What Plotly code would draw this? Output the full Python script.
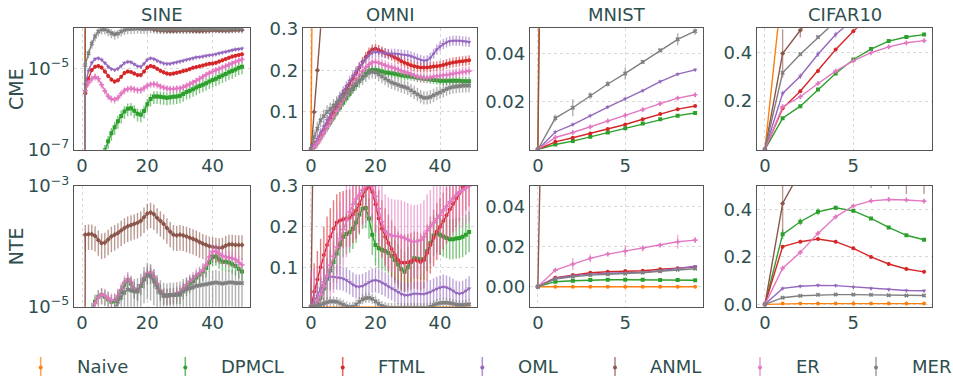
import plotly.graph_objects as go
from plotly.subplots import make_subplots

# ---------------- data ----------------
METHODS = ["Naive", "DPMCL", "FTML", "OML", "ANML", "ER", "MER"]
COLORS = ["#ff7f0e", "#2ca02c", "#d62728", "#9467bd", "#8c564b", "#e377c2", "#7f7f7f"]
SYMBOLS = ["circle", "square", "circle", "triangle-down", "diamond", "cross", "x"]
DATASETS = ["SINE", "OMNI", "MNIST", "CIFAR10"]
METRICS = ["CME", "NTE"]
STEPS_LONG = list(range(50))
STEPS_SHORT = list(range(10))

SINE_CME = {
    "Naive": [1e-30, 1.6e-4, 1.7e-4, 1.8e-4, 1.7e-4, 1.6e-4, 1.5e-4, 1.45e-4, 1.4e-4, 1.35e-4,
              1.3e-4, 1.3e-4, 1.25e-4, 1.2e-4, 1.2e-4, 1.15e-4, 1.12e-4, 1.1e-4, 1.08e-4, 1.06e-4,
              1.04e-4, 1.03e-4, 1.02e-4, 1.01e-4, 1.0e-4, 9.9e-5, 9.8e-5, 9.8e-5, 9.9e-5, 1.01e-4,
              1.03e-4, 1.05e-4, 1.06e-4, 1.07e-4, 1.08e-4, 1.09e-4, 1.1e-4, 1.1e-4, 1.11e-4, 1.12e-4,
              1.12e-4, 1.13e-4, 1.14e-4, 1.14e-4, 1.15e-4, 1.15e-4, 1.16e-4, 1.16e-4, 1.17e-4, 1.17e-4],
    "DPMCL": [1e-30, 3.2e-9, 6.3e-9, 1.0e-8, 1.6e-8, 2.5e-8, 5.0e-8, 9.5e-8, 1.58e-7, 2.51e-7,
              3.55e-7, 5.01e-7, 6.76e-7, 8.71e-7, 1.02e-6, 1.05e-6, 9.12e-7, 7.59e-7, 7.24e-7, 8.91e-7,
              1.32e-6, 1.78e-6, 2.04e-6, 2.04e-6, 2.0e-6, 1.95e-6, 1.91e-6, 1.95e-6, 2.0e-6, 2.04e-6,
              2.14e-6, 2.34e-6, 2.63e-6, 2.82e-6, 3.09e-6, 3.39e-6, 3.72e-6, 3.98e-6, 4.37e-6, 4.79e-6,
              5.25e-6, 5.62e-6, 6.17e-6, 6.76e-6, 7.41e-6, 8.13e-6, 8.71e-6, 9.55e-6, 1.05e-5, 1.12e-5],
    "FTML": [1e-30, 2.45e-6, 5.62e-6, 9.33e-6, 1.12e-5, 1.17e-5, 1.07e-5, 8.51e-6, 6.61e-6, 5.37e-6,
             4.79e-6, 5.13e-6, 6.31e-6, 7.76e-6, 8.51e-6, 8.32e-6, 7.59e-6, 6.92e-6, 6.92e-6, 8.51e-6,
             1.07e-5, 1.17e-5, 1.12e-5, 1.0e-5, 8.91e-6, 8.13e-6, 7.59e-6, 7.41e-6, 7.59e-6, 7.94e-6,
             8.32e-6, 8.71e-6, 9.12e-6, 9.77e-6, 1.05e-5, 1.10e-5, 1.15e-5, 1.20e-5, 1.26e-5, 1.32e-5,
             1.35e-5, 1.41e-5, 1.51e-5, 1.62e-5, 1.74e-5, 1.86e-5, 2.0e-5, 2.09e-5, 2.19e-5, 2.29e-5],
    "OML": [1e-30, 3.98e-6, 8.91e-6, 1.41e-5, 1.74e-5, 1.82e-5, 1.66e-5, 1.38e-5, 1.12e-5, 9.77e-6,
            9.33e-6, 1.0e-5, 1.17e-5, 1.38e-5, 1.48e-5, 1.45e-5, 1.29e-5, 1.15e-5, 1.12e-5, 1.32e-5,
            1.66e-5, 1.82e-5, 1.74e-5, 1.58e-5, 1.45e-5, 1.35e-5, 1.32e-5, 1.32e-5, 1.38e-5, 1.45e-5,
            1.51e-5, 1.58e-5, 1.66e-5, 1.74e-5, 1.82e-5, 1.91e-5, 1.95e-5, 2.0e-5, 2.09e-5, 2.14e-5,
            2.19e-5, 2.29e-5, 2.40e-5, 2.51e-5, 2.63e-5, 2.75e-5, 2.88e-5, 3.02e-5, 3.09e-5, 3.16e-5],
    "ANML": [1e-30, 3.0e-4, 3.2e-4, 3.1e-4, 2.9e-4, 2.7e-4, 2.5e-4, 2.3e-4, 2.2e-4, 2.1e-4,
             2.0e-4, 1.9e-4, 1.8e-4, 1.7e-4, 1.6e-4, 1.5e-4, 1.4e-4, 1.3e-4, 1.2e-4, 1.12e-4,
             1.05e-4, 9.8e-5, 9.3e-5, 9.0e-5, 8.8e-5, 8.7e-5, 8.6e-5, 8.5e-5, 8.5e-5, 8.6e-5,
             8.7e-5, 8.8e-5, 8.8e-5, 8.7e-5, 8.6e-5, 8.5e-5, 8.5e-5, 8.6e-5, 8.7e-5, 8.8e-5,
             8.9e-5, 8.9e-5, 8.8e-5, 8.7e-5, 8.7e-5, 8.8e-5, 8.9e-5, 9.0e-5, 9.0e-5, 9.1e-5],
    "ER": [1e-30, 2.82e-6, 4.47e-6, 5.62e-6, 6.31e-6, 5.62e-6, 3.98e-6, 2.82e-6, 2.09e-6, 1.78e-6,
           1.70e-6, 1.91e-6, 2.40e-6, 2.88e-6, 3.16e-6, 3.24e-6, 3.09e-6, 2.95e-6, 2.95e-6, 3.31e-6,
           3.80e-6, 4.07e-6, 4.17e-6, 3.98e-6, 3.63e-6, 3.39e-6, 3.24e-6, 3.16e-6, 3.16e-6, 3.24e-6,
           3.24e-6, 3.47e-6, 3.80e-6, 4.17e-6, 4.57e-6, 5.01e-6, 5.62e-6, 6.31e-6, 7.08e-6, 7.76e-6,
           8.51e-6, 9.12e-6, 9.77e-6, 1.07e-5, 1.15e-5, 1.26e-5, 1.35e-5, 1.48e-5, 1.58e-5, 1.70e-5],
    "MER": [1e-30, 1.23e-5, 2.40e-5, 4.17e-5, 6.31e-5, 8.32e-5, 9.33e-5, 9.33e-5, 8.51e-5, 7.59e-5,
            7.08e-5, 7.41e-5, 8.32e-5, 9.12e-5, 9.55e-5, 9.6e-5, 9.8e-5, 9.9e-5, 9.7e-5, 9.6e-5,
            9.8e-5, 1.0e-4, 9.9e-5, 9.7e-5, 9.6e-5, 9.5e-5, 9.6e-5, 9.8e-5, 9.9e-5, 9.8e-5,
            9.7e-5, 9.6e-5, 9.7e-5, 9.8e-5, 9.9e-5, 1.0e-4, 9.9e-5, 9.8e-5, 9.7e-5, 9.8e-5,
            9.9e-5, 1.0e-4, 1.0e-4, 9.9e-5, 9.8e-5, 9.9e-5, 1.0e-4, 1.01e-4, 1.0e-4, 9.9e-5],
}
SINE_CME_ERR_PCT = {"Naive": 10, "DPMCL": 35, "FTML": 12, "OML": 12, "ANML": 10, "ER": 20, "MER": 25}

SINE_NTE = {
    "Naive": [0.0] * 50,
    "DPMCL": [1e-30, 2.51e-6, 5.01e-6, 8.91e-6, 1.20e-5, 1.45e-5, 1.55e-5, 1.45e-5, 1.32e-5, 1.20e-5,
              1.23e-5, 1.41e-5, 1.74e-5, 2.29e-5, 2.69e-5, 2.40e-5, 1.91e-5, 1.78e-5, 2.19e-5, 2.82e-5,
              3.31e-5, 3.39e-5, 2.88e-5, 2.29e-5, 1.78e-5, 1.51e-5, 1.51e-5, 1.55e-5, 1.55e-5, 1.58e-5,
              1.58e-5, 1.86e-5, 2.14e-5, 2.40e-5, 2.63e-5, 3.02e-5, 3.39e-5, 3.80e-5, 4.37e-5, 5.37e-5,
              6.61e-5, 6.76e-5, 6.03e-5, 5.50e-5, 5.50e-5, 5.37e-5, 5.01e-5, 4.68e-5, 4.17e-5, 3.80e-5],
    "ANML": [1e-30, 1.55e-4, 1.58e-4, 1.58e-4, 1.48e-4, 1.26e-4, 1.12e-4, 1.15e-4, 1.29e-4, 1.45e-4,
             1.55e-4, 1.66e-4, 1.82e-4, 2.0e-4, 2.14e-4, 2.24e-4, 2.34e-4, 2.45e-4, 2.63e-4, 3.02e-4,
             3.47e-4, 3.63e-4, 3.39e-4, 2.95e-4, 2.63e-4, 2.34e-4, 2.0e-4, 1.74e-4, 1.55e-4, 1.51e-4,
             1.55e-4, 1.51e-4, 1.45e-4, 1.38e-4, 1.32e-4, 1.26e-4, 1.17e-4, 1.10e-4, 1.05e-4, 1.0e-4,
             9.77e-5, 9.55e-5, 9.33e-5, 9.55e-5, 1.02e-4, 1.07e-4, 1.07e-4, 1.05e-4, 1.05e-4, 1.05e-4],
    "ER": [1e-30, 2.0e-6, 4.47e-6, 8.32e-6, 1.12e-5, 1.41e-5, 1.58e-5, 1.51e-5, 1.38e-5, 1.26e-5,
           1.29e-5, 1.51e-5, 1.91e-5, 2.51e-5, 2.88e-5, 2.51e-5, 2.0e-5, 1.82e-5, 2.29e-5, 3.02e-5,
           3.55e-5, 3.72e-5, 3.16e-5, 2.40e-5, 1.82e-5, 1.58e-5, 1.51e-5, 1.51e-5, 1.58e-5, 1.66e-5,
           1.74e-5, 2.0e-5, 2.29e-5, 2.63e-5, 2.88e-5, 3.24e-5, 3.55e-5, 4.07e-5, 4.90e-5, 6.61e-5,
           8.13e-5, 8.32e-5, 7.59e-5, 6.92e-5, 6.61e-5, 6.46e-5, 6.31e-5, 6.03e-5, 5.37e-5, 4.90e-5],
    "MER": [1e-30, 3.16e-7, 6.31e-7, 1.0e-6, 1.58e-6, 2.51e-6, 3.16e-6, 3.98e-6, 5.01e-6, 6.31e-6,
            8.91e-6, 1.20e-5, 1.41e-5, 1.70e-5, 1.91e-5, 1.86e-5, 1.78e-5, 1.86e-5, 2.19e-5, 2.82e-5,
            3.31e-5, 3.16e-5, 2.63e-5, 2.09e-5, 1.70e-5, 1.55e-5, 1.51e-5, 1.55e-5, 1.55e-5, 1.58e-5,
            1.62e-5, 1.78e-5, 1.91e-5, 2.0e-5, 2.09e-5, 2.19e-5, 2.24e-5, 2.29e-5, 2.34e-5, 2.40e-5,
            2.45e-5, 2.51e-5, 2.45e-5, 2.40e-5, 2.45e-5, 2.51e-5, 2.51e-5, 2.45e-5, 2.45e-5, 2.45e-5],
}
SINE_NTE_ERR_PCT = {"Naive": 0, "DPMCL": 30, "ANML": 45, "ER": 30, "MER": 60}

OMNI_CME = {
    "Naive": [0.0, 1.0, 1.1, 1.15, 1.18, 1.2, 1.2, 1.21, 1.21, 1.22,
              1.22, 1.22, 1.23, 1.23, 1.23, 1.23, 1.24, 1.24, 1.24, 1.24,
              1.24, 1.24, 1.24, 1.24, 1.24, 1.24, 1.24, 1.24, 1.24, 1.24,
              1.24, 1.24, 1.24, 1.24, 1.24, 1.24, 1.24, 1.24, 1.24, 1.24,
              1.24, 1.24, 1.24, 1.24, 1.24, 1.24, 1.24, 1.24, 1.24, 1.24],
    "DPMCL": [0.01, 0.016, 0.027, 0.039, 0.051, 0.063, 0.075, 0.087, 0.099, 0.111,
              0.122, 0.133, 0.144, 0.155, 0.165, 0.175, 0.184, 0.192, 0.198, 0.201,
              0.201, 0.199, 0.197, 0.195, 0.194, 0.193, 0.192, 0.190, 0.188, 0.187,
              0.186, 0.185, 0.184, 0.182, 0.181, 0.180, 0.179, 0.178, 0.177, 0.176,
              0.175, 0.175, 0.175, 0.175, 0.175, 0.175, 0.175, 0.174, 0.174, 0.174],
    "FTML": [0.01, 0.018, 0.03, 0.044, 0.058, 0.072, 0.086, 0.10, 0.114, 0.128,
             0.142, 0.155, 0.168, 0.181, 0.194, 0.207, 0.22, 0.232, 0.243, 0.25,
             0.252, 0.249, 0.245, 0.241, 0.238, 0.235, 0.231, 0.227, 0.222, 0.218,
             0.215, 0.212, 0.210, 0.208, 0.207, 0.207, 0.207, 0.208, 0.209, 0.210,
             0.211, 0.213, 0.215, 0.217, 0.219, 0.220, 0.221, 0.222, 0.223, 0.224],
    "OML": [0.012, 0.02, 0.035, 0.05, 0.065, 0.08, 0.095, 0.11, 0.123, 0.137,
            0.15, 0.162, 0.175, 0.187, 0.198, 0.208, 0.218, 0.228, 0.236, 0.242,
            0.244, 0.243, 0.242, 0.241, 0.240, 0.240, 0.240, 0.239, 0.238, 0.237,
            0.236, 0.234, 0.231, 0.228, 0.225, 0.223, 0.224, 0.230, 0.240, 0.250,
            0.257, 0.263, 0.267, 0.270, 0.271, 0.271, 0.271, 0.270, 0.269, 0.268],
    "ANML": [0.0, 0.1, 0.2, 0.31, 0.42, 0.52, 0.6, 0.66, 0.7, 0.73,
             0.75, 0.77, 0.78, 0.79, 0.8, 0.8, 0.81, 0.81, 0.81, 0.82,
             0.82, 0.82, 0.82, 0.82, 0.82, 0.82, 0.82, 0.82, 0.82, 0.82,
             0.82, 0.82, 0.82, 0.82, 0.82, 0.82, 0.82, 0.82, 0.82, 0.82,
             0.82, 0.82, 0.82, 0.82, 0.82, 0.82, 0.82, 0.82, 0.82, 0.82],
    "ER": [0.01, 0.015, 0.025, 0.037, 0.05, 0.063, 0.076, 0.089, 0.102, 0.115,
           0.128, 0.14, 0.152, 0.164, 0.176, 0.188, 0.198, 0.207, 0.214, 0.219,
           0.22, 0.218, 0.215, 0.212, 0.209, 0.207, 0.205, 0.202, 0.199, 0.196,
           0.194, 0.191, 0.188, 0.185, 0.183, 0.182, 0.182, 0.183, 0.185, 0.186,
           0.187, 0.188, 0.189, 0.190, 0.192, 0.193, 0.194, 0.196, 0.197, 0.198],
    "MER": [0.01, 0.04, 0.06, 0.08, 0.09, 0.10, 0.107, 0.115, 0.122, 0.13,
            0.138, 0.146, 0.153, 0.160, 0.167, 0.174, 0.181, 0.188, 0.194, 0.197,
            0.195, 0.19, 0.185, 0.18, 0.175, 0.171, 0.168, 0.165, 0.162, 0.16,
            0.157, 0.152, 0.147, 0.142, 0.137, 0.134, 0.134, 0.136, 0.14, 0.144,
            0.147, 0.151, 0.155, 0.158, 0.16, 0.161, 0.162, 0.163, 0.163, 0.163],
}
OMNI_CME_ERR = {"Naive": 0, "DPMCL": 0.01, "FTML": 0.012, "OML": 0.012, "ANML": 0, "ER": 0.012, "MER": 0.016}

OMNI_NTE = {
    "Naive": [0.0] * 50,
    "DPMCL": [0.003, 0.005, 0.012, 0.025, 0.048, 0.072, 0.092, 0.113, 0.134, 0.156,
              0.175, 0.182, 0.186, 0.195, 0.21, 0.23, 0.244, 0.246, 0.22, 0.18,
              0.155, 0.147, 0.143, 0.140, 0.135, 0.128, 0.118, 0.107, 0.095, 0.089,
              0.10, 0.113, 0.122, 0.121, 0.119, 0.12, 0.14, 0.16, 0.178, 0.184,
              0.18, 0.176, 0.172, 0.169, 0.169, 0.171, 0.172, 0.175, 0.18, 0.187],
    "FTML": [0.003, 0.04, 0.07, 0.10, 0.13, 0.155, 0.175, 0.195, 0.21, 0.215,
             0.218, 0.22, 0.222, 0.23, 0.24, 0.255, 0.275, 0.292, 0.298, 0.285,
             0.255, 0.22, 0.195, 0.175, 0.16, 0.145, 0.13, 0.118, 0.112, 0.111,
             0.112, 0.115, 0.118, 0.116, 0.113, 0.118, 0.135, 0.155, 0.172, 0.188,
             0.20, 0.214, 0.228, 0.242, 0.256, 0.269, 0.283, 0.297, 0.31, 0.32],
    "OML": [0.003, 0.015, 0.03, 0.048, 0.063, 0.074, 0.077, 0.076, 0.075, 0.074,
            0.072, 0.068, 0.063, 0.057, 0.053, 0.052, 0.054, 0.058, 0.063, 0.067,
            0.068, 0.066, 0.062, 0.058, 0.053, 0.048, 0.044, 0.039, 0.034, 0.031,
            0.031, 0.033, 0.035, 0.035, 0.034, 0.034, 0.036, 0.039, 0.043, 0.047,
            0.050, 0.052, 0.050, 0.047, 0.042, 0.037, 0.035, 0.037, 0.042, 0.048],
    "ANML": [0.0, 0.6, 0.7, 0.75, 0.78, 0.8, 0.8, 0.8, 0.8, 0.8,
             0.8, 0.8, 0.8, 0.8, 0.8, 0.8, 0.8, 0.8, 0.8, 0.8,
             0.8, 0.8, 0.8, 0.8, 0.8, 0.8, 0.8, 0.8, 0.8, 0.8,
             0.8, 0.8, 0.8, 0.8, 0.8, 0.8, 0.8, 0.8, 0.8, 0.8,
             0.8, 0.8, 0.8, 0.8, 0.8, 0.8, 0.8, 0.8, 0.8, 0.8],
    "ER": [0.003, 0.006, 0.015, 0.031, 0.055, 0.08, 0.105, 0.127, 0.15, 0.171,
           0.193, 0.215, 0.236, 0.255, 0.268, 0.278, 0.29, 0.30, 0.305, 0.30,
           0.275, 0.244, 0.212, 0.19, 0.182, 0.178, 0.177, 0.176, 0.175, 0.172,
           0.168, 0.164, 0.163, 0.164, 0.167, 0.175, 0.19, 0.20, 0.21, 0.22,
           0.228, 0.24, 0.25, 0.261, 0.27, 0.278, 0.285, 0.29, 0.295, 0.30],
    "MER": [0.003, 0.003, 0.005, 0.007, 0.011, 0.014, 0.016, 0.016, 0.015, 0.012,
            0.008, 0.004, 0.002, 0.003, 0.008, 0.015, 0.021, 0.024, 0.025, 0.022,
            0.016, 0.01, 0.005, 0.002, 0.0, 0.0, 0.0, 0.0, 0.0, 0.0,
            0.0, 0.0, 0.0, 0.0, 0.0, 0.0, 0.0, 0.003, 0.007, 0.01,
            0.012, 0.013, 0.013, 0.012, 0.01, 0.008, 0.007, 0.007, 0.008, 0.009],
}
OMNI_NTE_ERR = {"Naive": 0, "DPMCL": 0.05, "FTML": 0.07, "OML": 0.03, "ANML": 0, "ER": 0.09, "MER": 0.012}

MNIST_CME = {
    "Naive": [0.0, 0.9, 0.95, 0.97, 0.98, 0.98, 0.99, 0.99, 0.99, 0.99],
    "DPMCL": [0.0, 0.0021, 0.0035, 0.0053, 0.0071, 0.0089, 0.0108, 0.0126, 0.0141, 0.0152],
    "FTML": [0.0, 0.0032, 0.0049, 0.0067, 0.0085, 0.0104, 0.0126, 0.0148, 0.0168, 0.0181],
    "OML": [0.0, 0.0073, 0.0104, 0.0141, 0.0177, 0.0211, 0.0245, 0.0283, 0.0314, 0.0332],
    "ANML": [0.0, 0.6, 0.7, 0.75, 0.78, 0.8, 0.81, 0.82, 0.83, 0.83],
    "ER": [0.0, 0.005, 0.0071, 0.0094, 0.0119, 0.0142, 0.0166, 0.0191, 0.0214, 0.0228],
    "MER": [0.0, 0.0131, 0.0174, 0.0225, 0.0273, 0.0317, 0.0365, 0.0413, 0.0459, 0.0493],
}
MNIST_CME_ERR = {"Naive": 0, "DPMCL": 0.0004, "FTML": 0.0005, "OML": 0.0008, "ANML": 0, "ER": 0.0008,
                 "MER": [0.0, 0.0015, 0.0035, 0.0015, 0.0012, 0.0025, 0.0008, 0.0008, 0.0025, 0.0015]}

MNIST_NTE = {
    "Naive": [0.0, 0.0, 0.0, 0.0, 0.0, 0.0, 0.0, 0.0, 0.0, 0.0],
    "DPMCL": [0.0, 0.0025, 0.003, 0.0033, 0.0035, 0.0035, 0.0035, 0.0034, 0.0033, 0.0032],
    "FTML": [0.0, 0.0045, 0.0058, 0.007, 0.0075, 0.0078, 0.008, 0.0087, 0.0092, 0.0098],
    "OML": [0.0, 0.0042, 0.0055, 0.0063, 0.0067, 0.007, 0.0073, 0.008, 0.009, 0.0102],
    "ANML": [0.0, 0.45, 0.5, 0.52, 0.53, 0.54, 0.54, 0.54, 0.54, 0.54],
    "ER": [0.0, 0.0083, 0.0113, 0.0142, 0.0163, 0.0178, 0.0192, 0.0208, 0.0225, 0.0233],
    "MER": [0.0, 0.0038, 0.005, 0.0058, 0.0062, 0.0065, 0.007, 0.0077, 0.0085, 0.009],
}
MNIST_NTE_ERR = {"Naive": 0, "DPMCL": 0.0004, "FTML": 0.0006, "OML": 0.0006, "ANML": 0,
                 "ER": [0.0, 0.0008, 0.003, 0.002, 0.001, 0.003, 0.0015, 0.001, 0.0035, 0.0015],
                 "MER": 0.0006}

CIFAR_CME = {
    "Naive": [0.0, 0.69, 0.85, 0.9, 0.92, 0.93, 0.94, 0.94, 0.95, 0.95],
    "DPMCL": [0.0, 0.129, 0.179, 0.248, 0.314, 0.372, 0.415, 0.448, 0.465, 0.475],
    "FTML": [0.0, 0.17, 0.241, 0.325, 0.413, 0.489, 0.56, 0.62, 0.67, 0.7],
    "OML": [0.0, 0.232, 0.303, 0.394, 0.475, 0.54, 0.6, 0.65, 0.69, 0.72],
    "ANML": [0.0, 0.397, 0.493, 0.58, 0.65, 0.7, 0.74, 0.77, 0.79, 0.8],
    "ER": [0.0, 0.177, 0.218, 0.273, 0.324, 0.366, 0.40, 0.424, 0.441, 0.45],
    "MER": [0.0, 0.317, 0.394, 0.465, 0.53, 0.58, 0.63, 0.67, 0.7, 0.72],
}
CIFAR_CME_ERR = {"Naive": 0, "DPMCL": 0.004, "FTML": 0.006, "OML": 0.012,
                 "ANML": [0.0, 0.1, 0.03, 0.03, 0.03, 0.03, 0.03, 0.03, 0.03, 0.03],
                 "ER": 0.005, "MER": 0.005}

CIFAR_NTE = {
    "Naive": [0.0, 0.003, 0.003, 0.003, 0.003, 0.003, 0.003, 0.003, 0.003, 0.003],
    "DPMCL": [0.0, 0.295, 0.348, 0.39, 0.407, 0.394, 0.362, 0.324, 0.291, 0.272],
    "FTML": [0.0, 0.243, 0.264, 0.275, 0.264, 0.236, 0.20, 0.17, 0.149, 0.137],
    "OML": [0.0, 0.067, 0.076, 0.08, 0.079, 0.073, 0.067, 0.062, 0.058, 0.057],
    "ANML": [0.0, 0.425, 0.56, 0.6, 0.62, 0.62, 0.6, 0.6, 0.6, 0.6],
    "ER": [0.0, 0.152, 0.219, 0.299, 0.369, 0.415, 0.436, 0.442, 0.44, 0.435],
    "MER": [0.0, 0.028, 0.036, 0.040, 0.041, 0.041, 0.040, 0.038, 0.037, 0.037],
}
CIFAR_NTE_ERR = {"Naive": 0.002,
                 "DPMCL": [0.0, 0.02, 0.015, 0.015, 0.008, 0.008, 0.005, 0.004, 0.005, 0.004],
                 "FTML": 0.008, "OML": 0.008,
                 "ANML": [0.0, 0.12, 0.05, 0.05, 0.05, 0.05, 0.11, 0.115, 0.135, 0.135],
                 "ER": 0.006, "MER": 0.002}

# ---------------- styling ----------------
FONT = "DejaVu Sans"
TXT = "#2F4F4F"
W, H = 953, 376
COL_PX = [(74, 250), (303, 477), (530, 703), (757, 932)]
ROW_PX = [(28.3, 149.5), (185.7, 306.7)]


def rgba(h, a):
    h = h.lstrip("#")
    return "rgba(%d,%d,%d,%.2f)" % (int(h[0:2], 16), int(h[2:4], 16), int(h[4:6], 16), a)


PANELS = [
    # data, errors, row, col, x, log?, yrange, tickvals, ticktext
    (SINE_CME, SINE_CME_ERR_PCT, 1, 1, STEPS_LONG, True, [-7.003, -4.0],
     [1e-7, 1e-5], ["10<sup>\u22127</sup>", "10<sup>\u22125</sup>"]),
    (OMNI_CME, OMNI_CME_ERR, 1, 2, STEPS_LONG, False, [0.01, 0.3008],
     [0.1, 0.2, 0.3], ["0.1", "0.2", "0.3"]),
    (MNIST_CME, MNIST_CME_ERR, 1, 3, STEPS_SHORT, False, [0.0, 0.0505],
     [0.02, 0.04], ["0.02", "0.04"]),
    (CIFAR_CME, CIFAR_CME_ERR, 1, 4, STEPS_SHORT, False, [0.0, 0.501],
     [0.2, 0.4], ["0.2", "0.4"]),
    (SINE_NTE, SINE_NTE_ERR_PCT, 2, 1, STEPS_LONG, True, [-5.003, -2.997],
     [1e-5, 1e-3], ["10<sup>\u22125</sup>", "10<sup>\u22123</sup>"]),
    (OMNI_NTE, OMNI_NTE_ERR, 2, 2, STEPS_LONG, False, [0.003, 0.3008],
     [0.1, 0.2, 0.3], ["0.1", "0.2", "0.3"]),
    (MNIST_NTE, MNIST_NTE_ERR, 2, 3, STEPS_SHORT, False, [-0.01, 0.0505],
     [0.0, 0.02, 0.04], ["0.00", "0.02", "0.04"]),
    (CIFAR_NTE, CIFAR_NTE_ERR, 2, 4, STEPS_SHORT, False, [-0.01, 0.5],
     [0.0, 0.2, 0.4], ["0.0", "0.2", "0.4"]),
]

fig = make_subplots(rows=2, cols=4)

for data, errs, r, c, xs, is_log, yr, tv, tt in PANELS:
    for i, m in enumerate(METHODS):
        if m not in data:
            continue
        e = errs.get(m, 0)
        if is_log:
            ey = dict(type="percent", value=e, visible=e > 0)
        elif isinstance(e, list):
            ey = dict(type="data", array=e, visible=True)
        else:
            ey = dict(type="constant", value=e, visible=e > 0)
        ey.update(color=rgba(COLORS[i], 0.6), thickness=1.4, width=0)
        fig.add_trace(go.Scatter(
            x=xs, y=data[m], mode="lines+markers", name=m,
            line=dict(color=COLORS[i], width=1.4),
            marker=dict(symbol=SYMBOLS[i], size=4, color=COLORS[i], line=dict(width=0)),
            error_y=ey, showlegend=False, hoverinfo="skip"), row=r, col=c)

    x0, x1 = COL_PX[c - 1]
    y0, y1 = ROW_PX[r - 1]
    long_x = len(xs) == 50
    fig.update_xaxes(
        domain=[x0 / W, x1 / W],
        range=[-2.45, 51.45] if long_x else [-0.45, 9.45],
        tickvals=[0, 20, 40] if long_x else [0, 5],
        showgrid=True, gridcolor="#d9d9d9", griddash="dot", gridwidth=1,
        zeroline=False, showline=True, mirror=True, linecolor="#555555", linewidth=1.3,
        ticks="", automargin=False, tickfont=dict(family=FONT, size=18, color=TXT),
        row=r, col=c)
    fig.update_yaxes(
        domain=[1 - y1 / H, 1 - y0 / H],
        type="log" if is_log else "linear",
        range=yr, tickvals=tv, ticktext=tt,
        showgrid=True, gridcolor="#d9d9d9", griddash="dot", gridwidth=1,
        zeroline=False, showline=True, mirror=True, linecolor="#555555", linewidth=1.3,
        ticks="", automargin=False, tickfont=dict(family=FONT, size=18, color=TXT),
        row=r, col=c)

annotations = []
for k, ds in enumerate(DATASETS):
    x0, x1 = COL_PX[k]
    annotations.append(dict(text=ds, x=(x0 + x1) / 2 / W, y=1 - 14 / H, xref="paper", yref="paper",
                            xanchor="center", yanchor="middle", showarrow=False,
                            font=dict(family=FONT, size=18, color=TXT)))
for k, mt in enumerate(METRICS):
    y0, y1 = ROW_PX[k]
    annotations.append(dict(text=mt, x=16 / W, y=1 - (y0 + y1) / 2 / H, xref="paper", yref="paper",
                            xanchor="center", yanchor="middle", showarrow=False, textangle=-90,
                            font=dict(family=FONT, size=19, color=TXT)))

# legend (drawn as errorbar-style handles)
LEG_HANDLE_X = [40.7, 185.3, 342.7, 482.3, 615, 760, 876]
LEG_TEXT_X = [75, 219, 376, 515.5, 648, 794, 909.5]
LEG_Y = 366.5
shapes = []
for i, m in enumerate(METHODS):
    hx = LEG_HANDLE_X[i] / W
    shapes.append(dict(type="line", xref="paper", yref="paper", x0=hx, x1=hx,
                       y0=1 - 357 / H, y1=1 - 376 / H,
                       line=dict(color=rgba(COLORS[i], 0.7), width=1.6)))
    shapes.append(dict(type="circle", xref="paper", yref="paper", xsizemode="pixel", ysizemode="pixel",
                       xanchor=hx, yanchor=1 - 367.5 / H, x0=-2, x1=2, y0=-2, y1=2,
                       fillcolor=COLORS[i], line=dict(width=0)))
    annotations.append(dict(text=m, x=LEG_TEXT_X[i] / W, y=1 - LEG_Y / H, xref="paper", yref="paper",
                            xanchor="left", yanchor="middle", showarrow=False,
                            font=dict(family=FONT, size=18, color=TXT)))

fig.update_layout(width=W, height=H, margin=dict(l=0, r=0, t=0, b=0, pad=0, autoexpand=False),
                  paper_bgcolor="white", plot_bgcolor="white",
                  annotations=annotations, shapes=shapes, showlegend=False)

fig.write_html("out.html", config={"displayModeBar": False},
               post_script="document.body.style.margin='0px';")
